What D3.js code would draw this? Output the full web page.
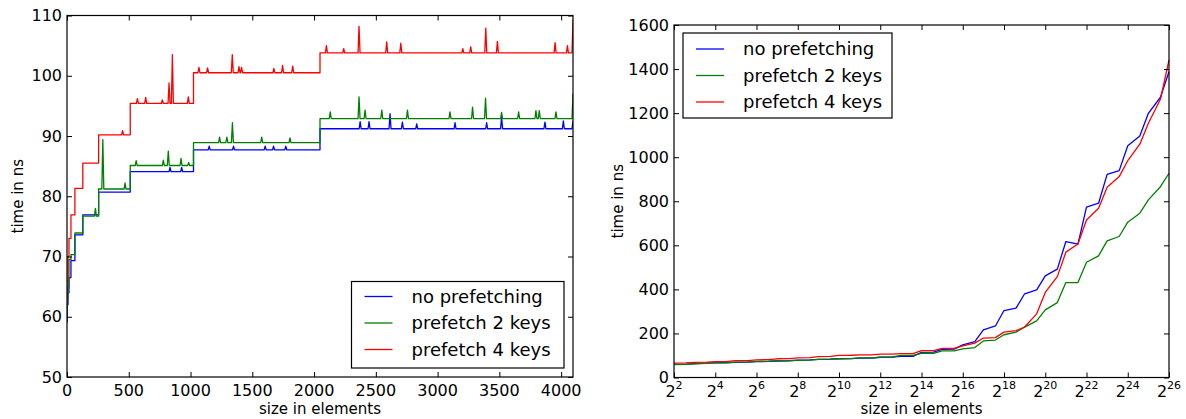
<!DOCTYPE html>
<html>
<head>
<meta charset="utf-8">
<script src="https://cdn.jsdelivr.net/npm/d3@7"></script>
<style>
  body { margin: 0; background: #fff; }
  svg { display: block; font-family: "DejaVu Sans", sans-serif; }
</style>
</head>
<body>
<div id="chart"></div>
<script>
// ---------------------------------------------------------------------------
// Données

const seriesNames = ["no prefetching", "prefetch 2 keys", "prefetch 4 keys"];
const seriesColors = ["#0000ff", "#008000", "#ff0000"];

// Graphique de gauche : paliers (bornes communes) + pics
const stepEdges = [1, 8, 16, 32, 64, 128, 256, 512, 1024, 2048, 4096];

const startNoPrefetch = 59;
const startPrefetch2 = 61;
const startPrefetch4 = 63;

const levelsNoPrefetch = [62, 64, 66.5, 69.3, 73.6, 76.9, 80.7, 84.1, 87.7, 91.2];
const levelsPrefetch2 = [63, 65, 69.5, 70.3, 73.9, 76.7, 81.2, 85.1, 88.9, 92.9];
const levelsPrefetch4 = [66, 70, 73, 76.9, 81.3, 85.5, 90.2, 95.4, 100.5, 103.8];

const spikesNoPrefetch = [
    [834, 84.8], [928, 84.8], [1151, 88.3], [1348, 88.3], [1604, 88.3], [1672, 88.3],
    [1771, 88.3], [2373, 92.4], [2445, 92.4], [2615, 93.7], [2715, 92.3], [2831, 92.0],
    [3141, 92.2], [3397, 92.2], [3518, 93.2], [3869, 92.3], [4018, 92.5], [4096, 92.5]
];
const spikesPrefetch2 = [
    [230, 78.0], [290, 89.4], [470, 82.2], [560, 85.9], [780, 86.0], [820, 87.5],
    [923, 86.3], [985, 85.6], [1235, 89.8], [1294, 89.8], [1339, 92.2], [1576, 89.8],
    [1805, 89.7], [2131, 94.0], [2364, 96.5], [2413, 94.3], [2548, 94.3], [2756, 94.3],
    [3100, 94.0], [3283, 94.8], [3388, 96.3], [3518, 93.9], [3656, 94.0], [3796, 94.2],
    [3823, 94.2], [3958, 94.0], [4096, 97.0]
];
const spikesPrefetch4 = [
    [450, 90.9], [570, 96.2], [637, 96.4], [772, 96.0], [826, 98.8], [853, 103.5],
    [982, 96.5], [1068, 101.4], [1138, 101.3], [1338, 103.5], [1392, 101.5], [1413, 101.4],
    [1675, 101.2], [1745, 101.7], [1827, 101.6], [2100, 105.0], [2240, 104.5], [2364, 108.2],
    [2588, 105.6], [2702, 105.4], [3204, 104.5], [3268, 104.8], [3390, 107.9], [3484, 105.7],
    [3951, 105.5], [4051, 105.0], [4096, 109.3]
];

// Graphique de droite : tailles en puissances de 2
const sizesLog = [
    4, 6, 8, 12, 16, 24, 32, 48, 64, 96, 128, 192, 256, 384, 512, 768, 1024, 1536,
    2048, 3072, 4096, 6144, 8192, 12288, 16384, 24576, 32768, 49152, 65536, 98304,
    131072, 196608, 262144, 393216, 524288, 786432, 1048576, 1572864, 2097152, 3145728,
    4194304, 6291456, 8388608, 12582912, 16777216, 25165824, 33554432, 50331648, 67108864
];
const timeNoPrefetch = [
    60, 61, 63, 65, 66, 68, 69, 70, 72, 73, 75, 76, 79, 80, 82, 83, 85, 86,
    88, 88, 92, 93, 96, 96, 114, 115, 128, 129, 148, 163,
    216, 234, 304, 315, 380, 398, 461, 492, 617, 605,
    773, 791, 922, 939, 1052, 1096, 1199, 1272, 1388
];
const timePrefetch2 = [
    58, 60, 62, 64, 66, 67, 70, 71, 73, 74, 76, 77, 78, 79, 82, 83, 85, 86,
    89, 89, 92, 93, 100, 100, 110, 110, 121, 121, 130, 136,
    166, 170, 194, 206, 229, 257, 307, 340, 431, 431,
    523, 552, 620, 640, 705, 746, 806, 866, 927
];
const timePrefetch4 = [
    65, 66, 69, 70, 72, 73, 77, 77, 80, 81, 85, 86, 89, 90, 95, 96, 100, 101,
    103, 103, 106, 106, 108, 108, 122, 122, 132, 132, 144, 156,
    179, 181, 206, 213, 229, 289, 386, 458, 569, 606,
    715, 768, 864, 912, 984, 1059, 1154, 1263, 1441
];

// ---------------------------------------------------------------------------
// Construction des séries

function buildSteps(start, levels, spikes) {
    const pts = [[stepEdges[0], start]];
    for (let i = 0; i < levels.length; i++) {
        const a = stepEdges[i], b = stepEdges[i + 1], lv = levels[i];
        pts.push([a, lv]);
        let endDone = false;
        spikes.filter(s => s[0] > a && s[0] <= b).forEach(s => {
            pts.push([s[0] - 8, lv], [s[0], s[1]]);
            if (s[0] + 8 < b) pts.push([s[0] + 8, lv]);
            else endDone = true;
        });
        if (!endDone) pts.push([b, lv]);
    }
    return pts;
}

const leftSeries = [
    buildSteps(startNoPrefetch, levelsNoPrefetch, spikesNoPrefetch),
    buildSteps(startPrefetch2, levelsPrefetch2, spikesPrefetch2),
    buildSteps(startPrefetch4, levelsPrefetch4, spikesPrefetch4)
];
const rightSeries = [timeNoPrefetch, timePrefetch2, timePrefetch4]
    .map(vals => vals.map((v, i) => [sizesLog[i], v]));

// ---------------------------------------------------------------------------
// Canevas

const width = 1186;
const height = 419;

const svg = d3.select("#chart").append("svg")
    .attr("width", width)
    .attr("height", height);

const leftBox = { x0: 67, x1: 573, y0: 15.5, y1: 377 };
const rightBox = { x0: 674, x1: 1169, y0: 25, y1: 377.5 };

// Échelles
const xLeft = d3.scaleLinear().domain([0, 4096]).range([leftBox.x0, leftBox.x1]);
const yLeft = d3.scaleLinear().domain([50, 110]).range([leftBox.y1, leftBox.y0]);
const xRight = d3.scaleLog().base(2).domain([4, 67108864]).range([rightBox.x0, rightBox.x1]);
const yRight = d3.scaleLinear().domain([0, 1600]).range([rightBox.y1, rightBox.y0]);

// ---------------------------------------------------------------------------
// Axes (ticks vers l'intérieur sur les quatre côtés)

function drawAxes(box, xs, ys, xTicks, yTicks, xFmt) {
    const g = svg.append("g");

    g.append("g")
        .attr("transform", `translate(0, ${box.y1})`)
        .call(d3.axisBottom(xs).tickValues(xTicks).tickFormat(() => "")
            .tickSizeInner(-5).tickSizeOuter(0))
        .call(a => a.select(".domain").remove());
    g.append("g")
        .attr("transform", `translate(0, ${box.y0})`)
        .call(d3.axisTop(xs).tickValues(xTicks).tickFormat(() => "")
            .tickSizeInner(-5).tickSizeOuter(0))
        .call(a => a.select(".domain").remove());
    g.append("g")
        .attr("transform", `translate(${box.x0}, 0)`)
        .call(d3.axisLeft(ys).tickValues(yTicks).tickFormat(d3.format("d"))
            .tickSizeInner(-5).tickSizeOuter(0).tickPadding(5))
        .call(a => a.select(".domain").remove())
        .selectAll("text")
        .attr("font-size", "16px")
        .attr("font-family", "DejaVu Sans")
        .attr("fill", "#000");
    g.append("g")
        .attr("transform", `translate(${box.x1}, 0)`)
        .call(d3.axisRight(ys).tickValues(yTicks).tickFormat(() => "")
            .tickSizeInner(-5).tickSizeOuter(0))
        .call(a => a.select(".domain").remove());

    g.selectAll(".tick line").attr("stroke", "#000").attr("stroke-width", 1);

    // étiquettes de l'axe X
    const lab = g.append("g").selectAll("text")
        .data(xTicks)
        .join("text")
        .attr("x", d => xs(d))
        .attr("y", box.y1 + 19)
        .attr("text-anchor", "middle")
        .attr("font-size", "16px")
        .attr("fill", "#000");
    xFmt(lab);

    // cadre
    g.append("rect")
        .attr("x", box.x0).attr("y", box.y0)
        .attr("width", box.x1 - box.x0).attr("height", box.y1 - box.y0)
        .attr("fill", "none").attr("stroke", "#000").attr("stroke-width", 1.2);
    return g;
}

const leftXTicks = [0, 500, 1000, 1500, 2000, 2500, 3000, 3500, 4000];
const leftYTicks = [50, 60, 70, 80, 90, 100, 110];
const rightXTicks = [4, 16, 64, 256, 1024, 4096, 16384, 65536, 262144, 1048576,
    4194304, 16777216, 67108864];
const rightYTicks = [0, 200, 400, 600, 800, 1000, 1200, 1400, 1600];

// ---------------------------------------------------------------------------
// Tracés

const plotLeft = svg.append("g");
plotLeft.append("clipPath").attr("id", "clipL")
    .append("rect").attr("x", leftBox.x0).attr("y", leftBox.y0)
    .attr("width", leftBox.x1 - leftBox.x0).attr("height", leftBox.y1 - leftBox.y0);
const lineLeft = d3.line().x(d => xLeft(d[0])).y(d => yLeft(d[1]));
plotLeft.append("g").attr("clip-path", "url(#clipL)")
    .selectAll("path")
    .data(leftSeries)
    .join("path")
    .attr("d", lineLeft)
    .attr("fill", "none")
    .attr("stroke", (d, i) => seriesColors[i])
    .attr("stroke-width", 1.3)
    .attr("stroke-linejoin", "round");

const plotRight = svg.append("g");
const lineRight = d3.line().x(d => xRight(d[0])).y(d => yRight(d[1]));
plotRight.selectAll("path")
    .data(rightSeries)
    .join("path")
    .attr("d", lineRight)
    .attr("fill", "none")
    .attr("stroke", (d, i) => seriesColors[i])
    .attr("stroke-width", 1.3)
    .attr("stroke-linejoin", "round");

drawAxes(leftBox, xLeft, yLeft, leftXTicks, leftYTicks, sel => sel.text(d => d));

drawAxes(rightBox, xRight, yRight, rightXTicks, rightYTicks, sel => {
    sel.each(function (d) {
        const t = d3.select(this);
        t.append("tspan").text("2");
        t.append("tspan").attr("dy", -8).attr("font-size", "11px").text(Math.round(Math.log2(d)));
    });
});

// Titres des axes
function axisLabels(box) {
    svg.append("text")
        .attr("x", (box.x0 + box.x1) / 2)
        .attr("y", 414)
        .attr("text-anchor", "middle")
        .attr("font-size", "15px")
        .text("size in elements");
}
axisLabels(leftBox);
axisLabels(rightBox);

svg.append("text")
    .attr("transform", `translate(23, ${(leftBox.y0 + leftBox.y1) / 2}) rotate(-90)`)
    .attr("text-anchor", "middle")
    .attr("font-size", "15px")
    .text("time in ns");
svg.append("text")
    .attr("transform", `translate(623, ${(rightBox.y0 + rightBox.y1) / 2}) rotate(-90)`)
    .attr("text-anchor", "middle")
    .attr("font-size", "15px")
    .text("time in ns");

// ---------------------------------------------------------------------------
// Légendes

function legend(x, y, w, h, rowY0) {
    const g = svg.append("g");
    g.append("rect")
        .attr("x", x).attr("y", y).attr("width", w).attr("height", h)
        .attr("fill", "#fff").attr("stroke", "#000").attr("stroke-width", 1.2);
    const rows = g.selectAll("g.row")
        .data(seriesNames)
        .join("g")
        .attr("transform", (d, i) => `translate(${x}, ${rowY0 + i * 26.5})`);
    rows.append("line")
        .attr("x1", 13).attr("x2", 41)
        .attr("stroke", (d, i) => seriesColors[i])
        .attr("stroke-width", 1.3);
    rows.append("text")
        .attr("x", 60)
        .attr("dy", "0.35em")
        .attr("font-size", "18px")
        .text(d => d);
}
legend(351.5, 281.5, 212.5, 86.5, 296.5);
legend(683, 33, 209, 85, 49);
</script>
</body>
</html>
